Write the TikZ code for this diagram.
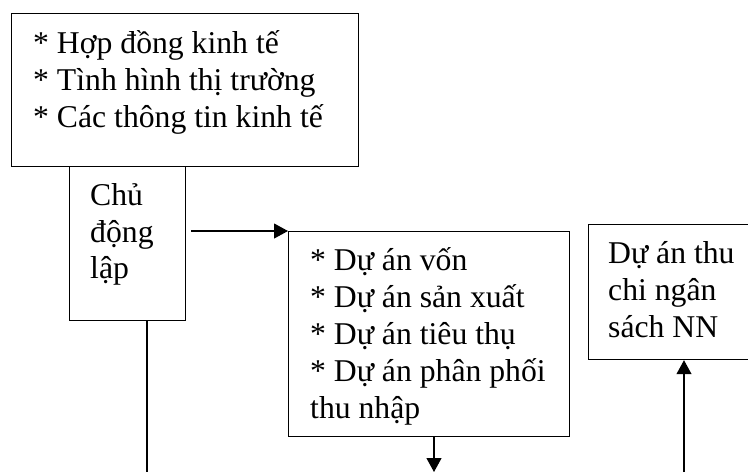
\documentclass[tikz,border=0pt]{standalone}
\usepackage{fontspec}
\setmainfont{Liberation Serif}
\usetikzlibrary{arrows.meta}
\begin{document}
\begin{tikzpicture}[x=1pt,y=-1pt,
  box/.style={draw,line width=1.2pt,inner sep=0pt,anchor=north west},
  txt/.style={anchor=base west,inner sep=0pt,font=\fontsize{31.7}{37}\selectfont},
  conn/.style={line width=1.1pt},
  tip/.style={-{Triangle[length=14pt,width=15pt]}}]
\useasboundingbox (0,0) rectangle (748,472);
\clip (0,0) rectangle (748,472);
% boxes
\node[box,minimum width=347pt,minimum height=153pt] (top) at (11,13) {};
\node[box,minimum width=116pt,minimum height=154pt] (chu) at (69,166) {};
\node[box,minimum width=281pt,minimum height=205pt] (mid) at (288,231) {};
\node[box,minimum width=180pt,minimum height=135pt] (ns) at (588,224) {};
% texts
\node[txt] (t1) at (33,53) {* Hợp đồng kinh tế};
\node[txt] (t2) at (33,90) {* Tình hình thị trường};
\node[txt] (t3) at (33,127) {* Các thông tin kinh tế};
\node[txt] (c1) at (90,205) {Chủ};
\node[txt] (c2) at (90,242) {động};
\node[txt] (c3) at (90,278) {lập};
\node[txt] (m1) at (310,270) {* Dự án vốn};
\node[txt] (m2) at (310,307) {* Dự án sản xuất};
\node[txt] (m3) at (310,344) {* Dự án tiêu thụ};
\node[txt] (m4) at (310,381) {* Dự án phân phối};
\node[txt] (m5) at (310,418) {thu nhập};
\node[txt] (n1) at (608,263) {Dự án thu};
\node[txt] (n2) at (608,300) {chi ngân};
\node[txt] (n3) at (608,337) {sách NN};
% connectors
\coordinate (b1) at (147,472);
\coordinate (b2) at (434,472);
\coordinate (b3) at (684,472);
\draw[conn,tip] ([xshift=5pt]chu.east |- mid.north west) -- (mid.north west);
\draw[conn] (b1 |- chu.south) -- (b1);
\draw[conn,tip] (b2 |- mid.south) -- (b2);
\draw[conn,tip] (b3) -- (b3 |- ns.south);
\end{tikzpicture}
\end{document}
